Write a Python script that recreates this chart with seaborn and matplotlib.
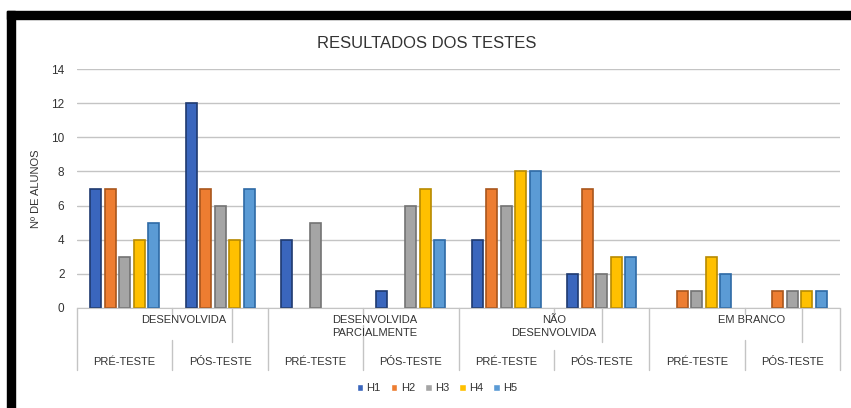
import pandas as pd
import seaborn as sns
import matplotlib.pyplot as plt
from matplotlib.patches import Rectangle
import matplotlib.transforms as mtransforms

# dados
categorias = ['DESENVOLVIDA', 'DESENVOLVIDA\nPARCIALMENTE', 'NÃO\nDESENVOLVIDA', 'EM BRANCO']
testes = ['PRÉ-TESTE', 'PÓS-TESTE']
series = ['H1', 'H2', 'H3', 'H4', 'H5']
# ordem: categoria x teste
h1 = [7, 12, 4, 1, 4, 2, 0, 0]
h2 = [7, 7, 0, 0, 7, 7, 1, 1]
h3 = [3, 6, 5, 6, 6, 2, 1, 1]
h4 = [4, 4, 0, 7, 8, 3, 3, 1]
h5 = [5, 7, 0, 4, 8, 3, 2, 1]

cores = ['#3a66bd', '#ed7d31', '#a5a5a5', '#ffc000', '#5b9bd5']
bordas = ['#1f3a70', '#a9561c', '#737373', '#b88a00', '#2e6aa6']

grupos = [f'{c}|{t}' for c in categorias for t in testes]
rows = []
for s, vals in zip(series, [h1, h2, h3, h4, h5]):
    for g, v in zip(grupos, vals):
        if v > 0:
            rows.append({'grupo': g, 'serie': s, 'valor': v})
df = pd.DataFrame(rows)

sns.set_style('white')
plt.rcParams['font.family'] = ['Liberation Sans', 'DejaVu Sans']

fig = plt.figure(figsize=(8.51, 4.08), dpi=100)
ax = fig.add_axes([77 / 851, 1 - 308 / 408, 763 / 851, 239 / 408])

sns.barplot(data=df, x='grupo', y='valor', hue='serie', order=grupos,
            hue_order=series, palette=cores, width=0.76, gap=0.24,
            ax=ax, saturation=1)

for cont, ec in zip(ax.containers, bordas):
    for bar in cont:
        bar.set_edgecolor(ec)
        bar.set_linewidth(1.2)

ax.set_ylim(0, 14)
ax.set_xlim(-0.5, len(grupos) - 0.5)
ax.set_yticks(range(0, 15, 2))
ax.yaxis.grid(True, color='#c4c4c4', lw=1)
ax.set_axisbelow(True)
for sp in ['top', 'right', 'left']:
    ax.spines[sp].set_visible(False)
ax.spines['bottom'].set_color('#c4c4c4')
ax.tick_params(axis='y', length=0, pad=9, labelsize=8.5, labelcolor='#333333')
ax.set_xticks([])
ax.set_xlabel('')
ax.set_ylabel('Nº DE ALUNOS', fontsize=8, color='#333333')
ax.yaxis.set_label_coords(-0.047, 0.5)

# eixo x em dois niveis
trans = mtransforms.blended_transform_factory(ax.transData, ax.transAxes)
def py(p):
    return (308 - p) / 239

lc = '#c4c4c4'
for i in range(len(categorias) + 1):
    x = 2 * i - 0.5
    ax.plot([x, x], [0, py(370)], color=lc, lw=1, transform=trans, clip_on=False)
for i in range(len(categorias)):
    x = 2 * i + 0.5
    ax.plot([x, x], [0, py(314)], color=lc, lw=1, transform=trans, clip_on=False)
    y0 = 325 if i == 1 else (350 if i == 2 else 340)
    ax.plot([x, x], [py(y0), py(370)], color=lc, lw=1, transform=trans, clip_on=False)
for x in [1.13, 5.0, 7.1]:
    ax.plot([x, x], [0, py(342)], color=lc, lw=1, transform=trans, clip_on=False)

desloc = [0.12, 0.12, 0.0, 0.07]
for i, c in enumerate(categorias):
    ax.text(2 * i + 0.5 + desloc[i], py(315), c, transform=trans, ha='center', va='top',
            fontsize=8, color='#333333', linespacing=1.4)
for i, g in enumerate(grupos):
    ax.text(i, py(362), g.split('|')[1], transform=trans, ha='center', va='center',
            fontsize=8, color='#333333')

h, l = ax.get_legend_handles_labels()
ax.get_legend().remove()
fig.legend(h, l, loc='center', bbox_to_anchor=(437 / 851, 1 - 388 / 408), ncol=5,
           frameon=False, handlelength=0.6, handleheight=0.6, handletextpad=0.3,
           columnspacing=0.9, fontsize=8, labelcolor='#333333')

fig.text(427 / 851, 1 - 44 / 408, 'RESULTADOS DOS TESTES', ha='center', va='center',
         fontsize=12, color='#333333')

# moldura preta
fig.patches.append(Rectangle((7 / 851, 0), 8 / 851, 1 - 11 / 408, transform=fig.transFigure,
                             color='black', zorder=10))
fig.patches.append(Rectangle((7 / 851, 1 - 19 / 408), 1, 8 / 408, transform=fig.transFigure,
                             color='black', zorder=10))

fig.savefig('out.png', dpi=100)
